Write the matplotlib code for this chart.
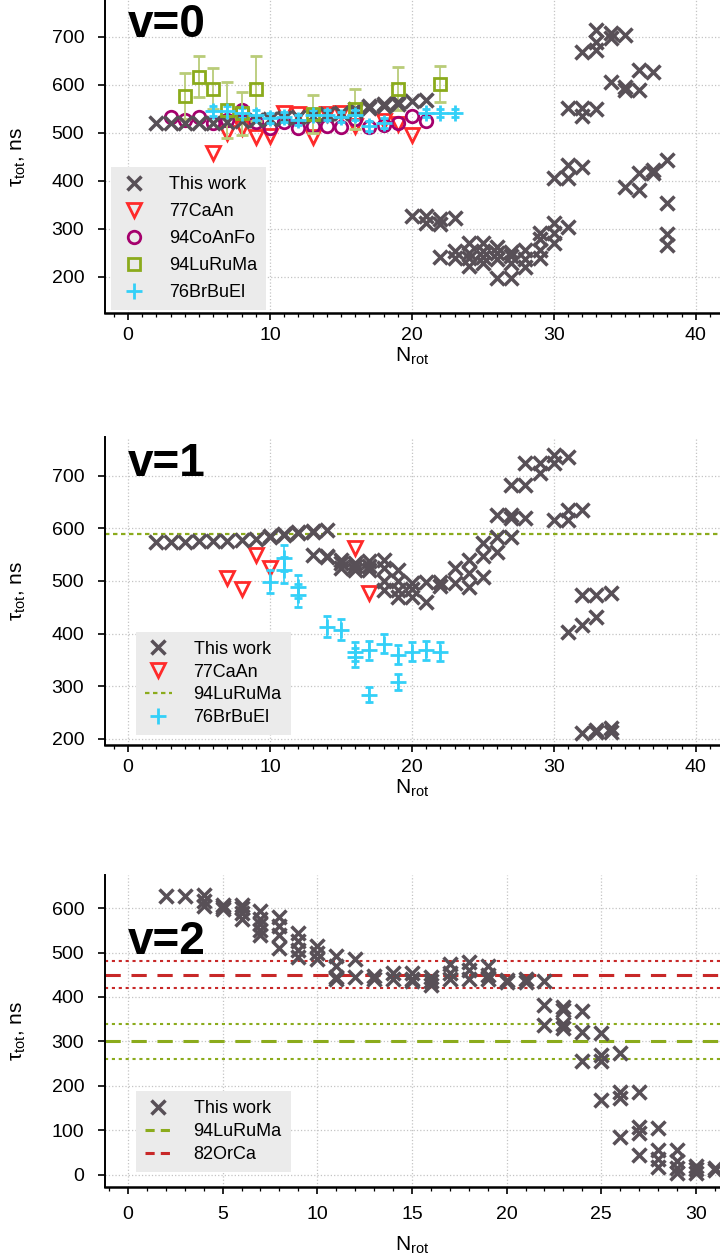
import matplotlib
matplotlib.use("Agg")
import matplotlib.pyplot as plt
from matplotlib.lines import Line2D
from matplotlib.ticker import MultipleLocator

plt.rcParams['font.family'] = ['Liberation Sans', 'DejaVu Sans']
plt.rcParams['mathtext.fontset'] = 'custom'
plt.rcParams['mathtext.rm'] = 'Liberation Sans'
plt.rcParams['mathtext.it'] = 'Liberation Sans'
plt.rcParams['mathtext.default'] = 'regular'

# ---------------- data ----------------
# v = 0
v0_work_n = [2, 3, 4, 5, 6, 7, 8, 9, 10, 11, 12, 13, 14, 15, 16, 16, 17, 17, 18, 18, 19, 19, 20, 21,
             20, 21, 21, 22, 22, 23,
             22, 23, 23, 24, 24, 24, 24, 25, 25, 25, 25, 26, 26, 26, 26, 27, 27, 27, 27,
             28, 28, 28, 29, 29, 29, 29, 30, 30, 30, 31,
             30, 31, 31, 32, 31, 32, 32, 33,
             32, 33, 33, 33, 34, 34, 35, 34, 35, 35, 36, 36, 37,
             35, 36, 36, 37, 37, 38, 38, 38, 38]
v0_work_t = [521, 521, 521, 521, 520, 522, 524, 526, 529, 531, 534, 536, 539, 542, 546, 550, 552, 556, 556, 560, 560, 565, 566, 569,
             327, 328, 312, 320, 310, 323,
             242, 254, 240, 271, 250, 240, 222, 271, 255, 242, 229, 262, 250, 237, 198, 252, 244, 230, 198,
             256, 237, 221, 292, 279, 256, 240, 312, 292, 271, 305,
             406, 433, 406, 429, 552, 552, 535, 550,
             669, 715, 690, 673, 708, 698, 704, 606, 596, 590, 631, 590, 627,
             388, 417, 381, 423, 417, 444, 354, 290, 267]

v0_caan_n = [6, 7, 8, 9, 10, 11, 12, 13, 14, 15, 16, 18, 19, 20]
v0_caan_t = [458, 500, 510, 492, 493, 541, 540, 492, 540, 542, 515, 525, 519, 496]

v0_coan_n = [3, 4, 5, 6, 7, 8, 9, 10, 11, 12, 13, 14, 15, 16, 17, 18, 19, 20, 21]
v0_coan_t = [533, 528, 533, 521, 528, 548, 522, 510, 522, 510, 515, 514, 512, 530, 512, 517, 521, 535, 525]

v0_luru_n = [4, 5, 6, 7, 8, 9, 13, 16, 19, 22]
v0_luru_t = [577, 617, 592, 548, 541, 592, 540, 550, 592, 602]
v0_luru_e = [48, 43, 43, 58, 45, 68, 40, 42, 45, 38]

v0_brbu_n = [6, 7, 8, 9, 10, 11, 12, 13, 14, 15, 16, 17, 18, 21, 22, 23]
v0_brbu_t = [546, 546, 541, 537, 531, 533, 527, 537, 537, 533, 537, 515, 521, 541, 541, 541]
v0_brbu_e = [10, 10, 10, 10, 10, 10, 10, 10, 10, 10, 10, 10, 10, 8, 8, 8]

# v = 1
v1_work_n = [2, 3, 4, 5, 6, 7, 8, 9, 10, 10, 11, 11, 12, 12, 13, 13, 14,
             13, 14, 14, 15, 15, 15, 16, 16, 16, 17, 17, 17, 18, 18, 18, 18, 19, 19, 19, 19,
             20, 20, 20, 21, 21, 22, 22, 23, 23, 24, 24, 24, 25, 25, 25, 26, 26, 26,
             27, 27, 27, 27, 28, 28, 28, 29, 29, 30, 30, 30, 31, 31, 31, 32,
             31, 32, 32, 33, 33, 34, 32, 33, 33, 34, 34]
v1_work_t = [575, 575, 575, 576, 576, 577, 578, 580, 584, 586, 588, 590, 592, 593, 594, 596, 597,
             550, 548, 545, 540, 535, 525, 535, 528, 520, 538, 528, 520, 540, 525, 500, 482, 520, 500, 483, 470,
             496, 485, 470, 499, 460, 499, 490, 525, 497, 540, 515, 489, 572, 548, 508, 584, 555, 626,
             584, 626, 620, 683, 620, 683, 725, 725, 706, 740, 725, 616, 736, 616, 635, 635,
             403, 416, 473, 432, 473, 477, 210, 216, 212, 221, 213]

v1_caan_n = [7, 8, 9, 10, 16, 17]
v1_caan_t = [506, 485, 550, 525, 563, 478]

v1_brbu_n = [10, 11, 11, 12, 12, 14, 15, 16, 16, 17, 17, 18, 19, 19, 20, 21, 22]
v1_brbu_t = [499, 544, 521, 489, 473, 413, 407, 365, 355, 368, 284, 381, 360, 308, 365, 368, 365]
v1_brbu_e = [22, 25, 25, 22, 22, 20, 20, 18, 18, 18, 15, 18, 18, 15, 18, 18, 18]

v1_luru = 590

# v = 2
v2_work_n = [2, 3, 4, 4, 4, 5, 5, 5, 6, 6, 6, 6, 7, 7, 7, 7, 7, 8, 8, 8, 8, 9, 9, 9, 9,
             10, 10, 10, 11, 11, 11, 11, 12, 12, 13, 13, 14, 14, 15, 15, 15, 16, 16, 16,
             17, 17, 17, 18, 18, 18, 19, 19, 19, 20, 20, 21, 21, 22, 22, 22,
             23, 23, 23, 23, 24, 24, 24, 25, 25, 25, 25, 26, 26, 26, 26,
             27, 27, 27, 27, 28, 28, 28, 28, 29, 29, 29, 29, 30, 30, 30, 31, 31]
v2_work_t = [627, 627, 630, 616, 605, 608, 603, 598, 608, 600, 590, 575, 593, 575, 565, 550, 540, 580, 560, 540, 510, 545, 525, 505, 490,
             515, 500, 485, 492, 470, 445, 440, 485, 444, 447, 440, 455, 440, 455, 440, 436, 444, 436, 428,
             474, 455, 440, 478, 460, 440, 470, 450, 440, 438, 434, 440, 434, 436, 383, 338,
             378, 370, 340, 330, 368, 322, 255, 320, 270, 256, 169, 275, 187, 173, 85,
             187, 108, 95, 45, 105, 55, 35, 18, 55, 30, 15, 5, 20, 12, 5, 15, 10]

v2_luru = [300, 340, 260]
v2_orca = [450, 480, 420]

# ---------------- style ----------------
c_work = '#585057'
c_caan = '#ff2a2a'
c_coan = '#a5006d'
c_luru = '#8bab1c'
c_brbu = '#33d0f8'
c_orca = '#c82828'

work_kw = dict(ls='none', marker='x', ms=10, mew=2.5, color=c_work)
caan_kw = dict(ls='none', marker='v', ms=10.5, mew=2, mfc='none', mec=c_caan)
coan_kw = dict(ls='none', marker='o', ms=9, mew=2, mfc='none', mec=c_coan)
luru_kw = dict(ls='none', marker='s', ms=8, mew=2, mfc='none', mec=c_luru)
brbu_kw = dict(ls='none', marker='+', ms=12, mew=2, color=c_brbu)

fig = plt.figure(figsize=(7.2, 12.55), dpi=100)


def style_axes(ax, xlim, ylim, xmajor, xpad=5, xlabelpad=1):
    ax.set_xlim(*xlim)
    ax.set_ylim(*ylim)
    ax.xaxis.set_major_locator(MultipleLocator(xmajor))
    ax.xaxis.set_minor_locator(MultipleLocator(1))
    ax.yaxis.set_major_locator(MultipleLocator(100))
    ax.grid(True, which='major', ls=':', lw=0.9, color='#c4c4c4')
    ax.set_axisbelow(True)
    for s in ['top', 'right']:
        ax.spines[s].set_visible(False)
    ax.spines['left'].set_linewidth(1.4)
    ax.spines['bottom'].set_linewidth(1.8)
    ax.tick_params(axis='both', which='major', labelsize=14, length=5, width=1.2, direction='out')
    ax.tick_params(axis='y', which='major', pad=10)
    ax.tick_params(axis='x', which='major', pad=xpad)
    ax.tick_params(axis='x', which='minor', length=3, width=0.9, direction='out')
    ax.set_xlabel(r'N$_{rot}$', fontsize=15, labelpad=xlabelpad)
    ax.set_ylabel(r'$\tau_{tot}$, ns', fontsize=15)
    ax.yaxis.set_label_coords(-0.125, 0.5)


def legend(ax, handles, anchor, spacing):
    leg = ax.legend(handles=handles, loc='lower left', bbox_to_anchor=anchor, borderaxespad=0,
                    fontsize=13, frameon=True, fancybox=False, facecolor='#ebebeb', edgecolor='none',
                    framealpha=1, handlelength=1.5, handletextpad=1.2, labelspacing=spacing, borderpad=0.5)
    return leg


# ---- panel v=0
ax0 = fig.add_axes([0.1458, 0.7506, 0.8542, 0.2494])
ax0.plot(v0_caan_n, v0_caan_t, **caan_kw)
ax0.plot(v0_coan_n, v0_coan_t, **coan_kw)
ax0.errorbar(v0_luru_n, v0_luru_t, yerr=v0_luru_e, ecolor='#b9cc78', elinewidth=1.3, capsize=4,
             capthick=1.3, **luru_kw)
ax0.plot(v0_work_n, v0_work_t, **work_kw)
ax0.errorbar(v0_brbu_n, v0_brbu_t, yerr=v0_brbu_e, ecolor=c_brbu, elinewidth=1.2, capsize=3,
             capthick=1.2, **brbu_kw)
style_axes(ax0, (-1.62, 41.7), (125, 777), 10)
ax0.text(0.037, 0.99, 'v=0', transform=ax0.transAxes, fontsize=33, fontweight='bold', va='top', ha='left')
legend(ax0, [Line2D([], [], label='This work', **work_kw),
             Line2D([], [], label='77CaAn', **caan_kw),
             Line2D([], [], label='94CoAnFo', **coan_kw),
             Line2D([], [], label='94LuRuMa', **luru_kw),
             Line2D([], [], label='76BrBuEl', **brbu_kw)], (0.01, 0.01), 0.55)

# ---- panel v=1
ax1 = fig.add_axes([0.1458, 0.4064, 0.8542, 0.2454])
ax1.axhline(v1_luru, color=c_luru, lw=1.6, ls=(0, (2, 1.6)))
ax1.plot(v1_caan_n, v1_caan_t, **caan_kw)
ax1.plot(v1_work_n, v1_work_t, **work_kw)
ax1.errorbar(v1_brbu_n, v1_brbu_t, yerr=v1_brbu_e, ecolor=c_brbu, elinewidth=1.2, capsize=3,
             capthick=1.2, **brbu_kw)
style_axes(ax1, (-1.62, 41.7), (188, 774), 10)
ax1.text(0.037, 0.985, 'v=1', transform=ax1.transAxes, fontsize=33, fontweight='bold', va='top', ha='left')
legend(ax1, [Line2D([], [], label='This work', **work_kw),
             Line2D([], [], label='77CaAn', **caan_kw),
             Line2D([], [], label='94LuRuMa', color=c_luru, lw=1.6, ls=(0, (2, 1.6))),
             Line2D([], [], label='76BrBuEl', **brbu_kw)], (0.05, 0.032), 0.32)

# ---- panel v=2
ax2 = fig.add_axes([0.1458, 0.0542, 0.8542, 0.2486])
ax2.axhline(v2_orca[0], color=c_orca, lw=2.2, ls=(0, (5, 3.5)))
for y in v2_orca[1:]:
    ax2.axhline(y, color=c_orca, lw=1.5, ls=(0, (1.5, 1.8)))
ax2.axhline(v2_luru[0], color=c_luru, lw=2.2, ls=(0, (5, 3.5)))
for y in v2_luru[1:]:
    ax2.axhline(y, color=c_luru, lw=1.5, ls=(0, (1.5, 1.8)))
ax2.plot(v2_work_n, v2_work_t, **work_kw)
style_axes(ax2, (-1.21, 31.27), (-27.5, 674.5), 5, xpad=9, xlabelpad=8)
ax2.text(0.037, 0.855, 'v=2', transform=ax2.transAxes, fontsize=33, fontweight='bold', va='top', ha='left')
legend(ax2, [Line2D([], [], label='This work', **work_kw),
             Line2D([], [], label='94LuRuMa', color=c_luru, lw=2.2, ls=(0, (3, 2))),
             Line2D([], [], label='82OrCa', color=c_orca, lw=2.2, ls=(0, (3, 2)))], (0.05, 0.048), 0.32)

fig.savefig('out.png', dpi=100)
